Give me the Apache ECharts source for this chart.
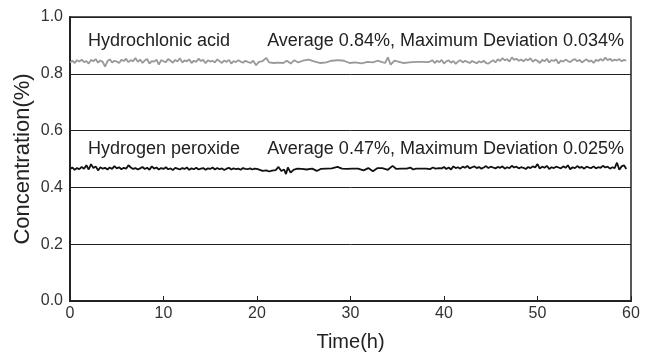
<!DOCTYPE html>
<html>
<head>
<meta charset="utf-8">
<script src="https://cdn.jsdelivr.net/npm/echarts@6/dist/echarts.min.js"></script>
<style>html,body{margin:0;padding:0;background:#fff}#c{width:655px;height:358px}</style>
</head>
<body>
<div id="c"></div>
<script>
// Time axis ticks
const xTicks = [0, 10, 20, 30, 40, 50, 60];
const yTicks = [0, 0.2, 0.4, 0.6, 0.8, 1.0];

// Hydrochloric acid (grey) — dense segment 1, sampled every 0.25 h from t = 0
const acidDense1Start = 0, acidDenseStep = 0.25;
const acidDense1 = [0.840,0.846,0.838,0.848,0.843,0.850,0.841,0.845,0.836,0.849,0.844,0.852,0.839,0.847,0.842,0.825,0.844,0.851,0.840,0.846,0.843,0.838,0.849,0.845,0.853,0.841,0.848,0.844,0.856,0.842,0.850,0.838,0.847,0.852,0.836,0.845,0.843,0.850,0.832,0.848,0.844,0.841,0.852,0.846,0.839,0.849,0.843,0.855,0.840,0.847,0.844,0.851,0.838,0.846,0.842,0.853,0.845,0.849,0.837,0.848,0.843,0.846,0.840,0.851,0.844,0.838,0.847,0.842,0.849,0.836,0.845,0.841,0.848,0.843,0.839,0.846,0.842];
// sparse middle segment [time, value]
const acidSparseTime = [19.3,19.6,19.9,20.2,20.6,21.0,21.3,21.8,22.3,22.8,23.2,23.6,24.0,24.4,24.9,25.5,26.2,26.8,27.4,28.0,28.7,29.3,29.9,30.5,31.2,31.8,32.4,32.9,33.3,33.7,34.0,34.3,34.7,35.2,35.7,36.3,37.0,37.6,38.2];
const acidSparse = [0.838,0.846,0.830,0.842,0.845,0.856,0.840,0.838,0.839,0.838,0.846,0.836,0.848,0.840,0.846,0.850,0.843,0.838,0.840,0.846,0.848,0.846,0.838,0.840,0.837,0.842,0.840,0.846,0.842,0.838,0.858,0.832,0.846,0.842,0.838,0.840,0.842,0.842,0.841];
// dense segment 2 from t = 38.5
const acidDense2Start = 38.5;
const acidDense2 = [0.843,0.848,0.838,0.846,0.841,0.849,0.836,0.844,0.847,0.839,0.845,0.835,0.843,0.848,0.840,0.846,0.842,0.838,0.845,0.841,0.837,0.844,0.840,0.846,0.838,0.836,0.842,0.848,0.840,0.851,0.845,0.855,0.847,0.852,0.843,0.858,0.849,0.853,0.846,0.850,0.844,0.852,0.847,0.855,0.842,0.850,0.846,0.838,0.849,0.844,0.853,0.840,0.848,0.845,0.851,0.836,0.847,0.843,0.850,0.845,0.841,0.848,0.852,0.844,0.849,0.840,0.846,0.851,0.843,0.847,0.838,0.849,0.845,0.852,0.846,0.857,0.848,0.853,0.845,0.850,0.847,0.852,0.844,0.849,0.846];

// Hydrogen peroxide (black)
const peroxDense1Start = 0, peroxDenseStep = 0.25;
const peroxDense1 = [0.465,0.470,0.462,0.468,0.464,0.472,0.466,0.478,0.463,0.482,0.468,0.474,0.460,0.471,0.466,0.469,0.463,0.470,0.465,0.475,0.467,0.471,0.464,0.469,0.466,0.478,0.470,0.465,0.468,0.463,0.467,0.472,0.465,0.469,0.462,0.474,0.466,0.470,0.463,0.468,0.465,0.471,0.464,0.467,0.461,0.469,0.466,0.463,0.468,0.465,0.470,0.462,0.467,0.464,0.469,0.463,0.466,0.468,0.462,0.467,0.465,0.470,0.463,0.468,0.464,0.467,0.461,0.466,0.469,0.463,0.467,0.464,0.466,0.462,0.468,0.465,0.464,0.467,0.463,0.466,0.465];
const peroxSparseTime = [20.3,20.6,21.0,21.3,21.6,22.0,22.3,22.6,22.9,23.1,23.3,23.6,23.9,24.3,24.8,25.3,25.9,26.4,26.8,27.4,28.0,28.6,29.1,29.6,30.2,30.8,31.4,31.9,32.4,32.9,33.4,34.0,34.5,34.9,35.4,36.0,36.4,36.7,37.0,37.6,38.1,38.5,38.8,39.1,39.5];
const peroxSparse = [0.462,0.458,0.460,0.456,0.459,0.461,0.472,0.458,0.463,0.447,0.470,0.452,0.462,0.466,0.465,0.463,0.466,0.458,0.465,0.466,0.467,0.472,0.466,0.465,0.466,0.466,0.460,0.468,0.457,0.468,0.468,0.462,0.476,0.465,0.466,0.466,0.470,0.463,0.466,0.466,0.466,0.464,0.470,0.466,0.468];
const peroxDense2Start = 39.75;
const peroxDense2 = [0.467,0.472,0.465,0.470,0.463,0.474,0.468,0.471,0.466,0.473,0.469,0.476,0.467,0.471,0.474,0.468,0.472,0.466,0.470,0.475,0.468,0.473,0.470,0.467,0.472,0.469,0.474,0.466,0.471,0.468,0.476,0.470,0.473,0.467,0.471,0.469,0.465,0.472,0.468,0.474,0.470,0.482,0.466,0.473,0.469,0.476,0.465,0.471,0.468,0.473,0.470,0.467,0.474,0.469,0.478,0.464,0.471,0.468,0.475,0.469,0.472,0.466,0.473,0.470,0.468,0.474,0.467,0.471,0.469,0.476,0.470,0.473,0.466,0.471,0.468,0.487,0.462,0.474,0.478,0.465];

const labels = {
  acidName: 'Hydrochlonic acid',
  acidStat: 'Average 0.84%, Maximum Deviation 0.034%',
  peroxName: 'Hydrogen peroxide',
  peroxStat: 'Average 0.47%, Maximum Deviation 0.025%'
};

function pairs(start, step, vals) { return vals.map((v, i) => [+(start + i * step).toFixed(3), v]); }
function zip(ts, vals) { return ts.map((t, i) => [t, vals[i]]); }

const acidData = pairs(acidDense1Start, acidDenseStep, acidDense1)
  .concat(zip(acidSparseTime, acidSparse))
  .concat(pairs(acidDense2Start, acidDenseStep, acidDense2));
const peroxData = pairs(peroxDense1Start, peroxDenseStep, peroxDense1)
  .concat(zip(peroxSparseTime, peroxSparse))
  .concat(pairs(peroxDense2Start, peroxDenseStep, peroxDense2));

const FONT = 'Liberation Sans, Arial, sans-serif';
const chart = echarts.init(document.getElementById('c'), null, { renderer: 'canvas' });
chart.setOption({
  animation: false,
  grid: { left: 70, right: 24, top: 17, bottom: 57, containLabel: false, outerBoundsMode: 'none', show: true, borderColor: '#222', borderWidth: 1.5 },
  xAxis: {
    type: 'value', min: xTicks[0], max: xTicks[xTicks.length - 1], interval: 10,
    name: 'Time(h)', nameLocation: 'middle', nameGap: 31, nameMoveOverlap: false,
    nameTextStyle: { fontFamily: FONT, fontSize: 20, color: '#222' },
    axisLine: { show: true, lineStyle: { color: '#222', width: 2 } },
    axisTick: { show: true, inside: true, length: 5, lineStyle: { color: '#222' } },
    axisLabel: { fontFamily: FONT, fontSize: 16, color: '#333', margin: 5 },
    splitLine: { show: false }
  },
  yAxis: {
    type: 'value', min: yTicks[0], max: yTicks[yTicks.length - 1], interval: 0.2,
    name: 'Concentration(%)', nameLocation: 'middle', nameGap: 36, nameRotate: 90, nameMoveOverlap: false,
    nameTextStyle: { fontFamily: FONT, fontSize: 22, color: '#222' },
    axisLine: { show: true, lineStyle: { color: '#222', width: 2 } },
    axisTick: { show: false },
    axisLabel: { fontFamily: FONT, fontSize: 16, color: '#333', margin: 7, formatter: v => v.toFixed(1) },
    splitLine: { show: true, lineStyle: { color: '#222', width: 1 } }
  },
  series: [
    { type: 'line', data: acidData, showSymbol: false, lineStyle: { color: '#999', width: 1.8 }, z: 3 },
    { type: 'line', data: peroxData, showSymbol: false, lineStyle: { color: '#111', width: 1.8 }, z: 4 }
  ],
  graphic: [
    { type: 'text', left: 88, top: 32, style: { text: labels.acidName, font: '18px ' + FONT, fill: '#222' } },
    { type: 'text', right: 31, top: 32, style: { text: labels.acidStat, font: '18px ' + FONT, fill: '#222' } },
    { type: 'text', left: 88, top: 140, style: { text: labels.peroxName, font: '18px ' + FONT, fill: '#222' } },
    { type: 'text', right: 31, top: 140, style: { text: labels.peroxStat, font: '18px ' + FONT, fill: '#222' } }
  ]
});
</script>
</body>
</html>
